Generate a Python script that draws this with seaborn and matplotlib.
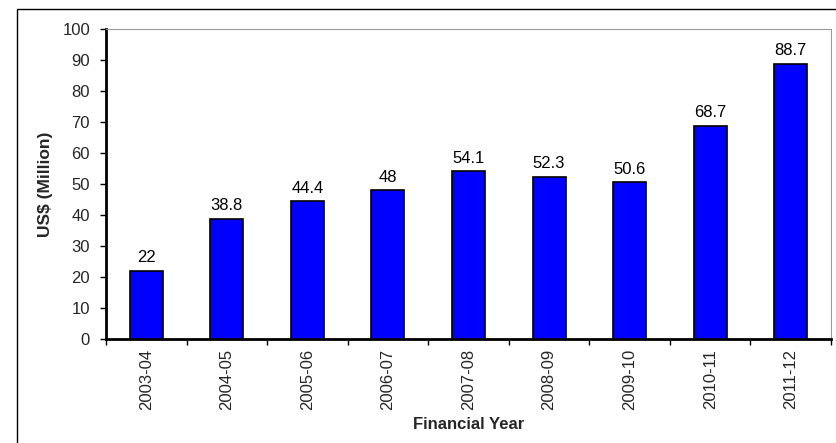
import matplotlib
matplotlib.use("Agg")
import matplotlib.pyplot as plt
from matplotlib.patches import Rectangle
from matplotlib.ticker import FixedLocator, NullFormatter
import seaborn as sns

years = ["2003-04", "2004-05", "2005-06", "2006-07", "2007-08",
         "2008-09", "2009-10", "2010-11", "2011-12"]
values = [22, 38.8, 44.4, 48, 54.1, 52.3, 50.6, 68.7, 88.7]
y_ticks = list(range(0, 101, 10))

sns.set_theme(style="white")
plt.rcParams["font.family"] = ["Liberation Sans", "DejaVu Sans"]

fig = plt.figure(figsize=(8.37, 4.43), dpi=100)
ax = fig.add_axes([106 / 837, 1 - 339 / 443, 725 / 837, 310 / 443])

sns.barplot(x=years, y=values, color="#0000FF", saturation=1, width=0.41,
            edgecolor="black", linewidth=1.2, ax=ax, zorder=3)

for i, v in enumerate(values):
    ax.annotate(f"{v:g}", (i, v), xytext=(0, 4), textcoords="offset points",
                ha="center", va="bottom", fontsize=12, color="black")

ax.set_ylim(0, 100)
ax.set_xlim(-0.5, len(years) - 0.5)
ax.set_yticks(y_ticks)
ax.tick_params(axis="y", which="major", direction="out", length=4.5, width=1,
               color="black", labelsize=12, pad=7, left=True)
ax.set_xticks(range(len(years)))
ax.set_xticklabels(years, rotation=90, fontsize=12)
ax.tick_params(axis="x", which="major", length=0, pad=7)
ax.xaxis.set_minor_locator(FixedLocator([i - 0.5 for i in range(len(years) + 1)]))
ax.xaxis.set_minor_formatter(NullFormatter())
ax.tick_params(axis="x", which="minor", direction="out", length=4.5, width=1,
               color="black", bottom=True)

for side in ("left", "bottom"):
    ax.spines[side].set_color("black")
    ax.spines[side].set_linewidth(2)
for side in ("top", "right"):
    ax.spines[side].set_color("#9a9a9a")
    ax.spines[side].set_linewidth(0.8)

ax.set_xlabel("Financial Year", fontsize=12, fontweight="bold", labelpad=5)
ax.set_ylabel("US$ (Million)", fontsize=12.5, fontweight="bold", labelpad=7)
ax.grid(False)

fig.patches.append(Rectangle((17 / 837, -0.1), 1.2, 1 - 8.5 / 443 + 0.1,
                             transform=fig.transFigure, fill=False,
                             edgecolor="black", linewidth=1))

fig.savefig("out.png", dpi=100)
